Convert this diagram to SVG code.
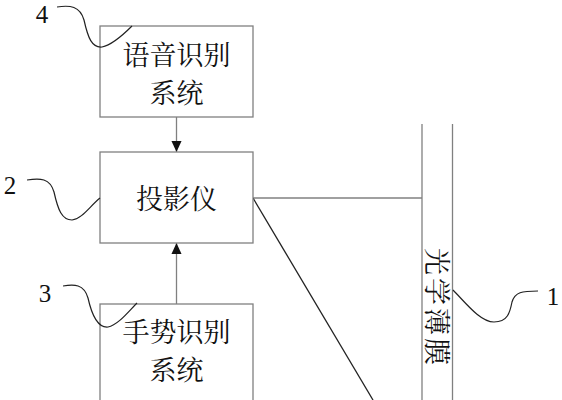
<svg xmlns="http://www.w3.org/2000/svg" width="562" height="400" viewBox="0 0 562 400">
<style>
.box{fill:#fff;stroke:#808080;stroke-width:1.3}
.cn{font-family:"Noto Serif CJK SC","Noto Sans CJK SC",serif;font-size:27px;fill:#111;text-anchor:middle;dominant-baseline:central}
.num{font-family:"Liberation Serif",serif;font-size:25px;fill:#111;text-anchor:middle;dominant-baseline:central}
.ln{fill:none;stroke:#808080;stroke-width:1.3}
.lead{fill:none;stroke:#222;stroke-width:1.2}
</style>
<defs>
<marker id="ah" viewBox="0 0 12 12" refX="12" refY="6" markerWidth="12" markerHeight="11" markerUnits="userSpaceOnUse" orient="auto">
<path d="M0,0.5 L12,6 L0,11.5 Z" fill="#111"/>
</marker>
</defs>
<g id="connectors">
<line class="ln" x1="176.5" y1="117" x2="176.5" y2="152" stroke="#333" marker-end="url(#ah)"/>
<line class="ln" x1="176.5" y1="304" x2="176.5" y2="243" stroke="#333" marker-end="url(#ah)"/>
<line class="ln" x1="253" y1="198" x2="422" y2="198"/>
<line x1="253" y1="198" x2="373" y2="400" stroke="#222" stroke-width="1.3"/>
</g>
<g id="node-voice">
<rect class="box" x="100" y="26" width="153" height="91"/>
<text class="cn" x="176.5" y="53">语音识别</text>
<text class="cn" x="176.5" y="91">系统</text>
</g>
<g id="node-projector">
<rect class="box" x="100" y="152" width="153" height="91"/>
<text class="cn" x="176.5" y="197">投影仪</text>
</g>
<g id="node-gesture">
<rect class="box" x="100" y="304" width="153" height="110"/>
<text class="cn" x="176.5" y="330">手势识别</text>
<text class="cn" x="176.5" y="368">系统</text>
</g>
<g id="node-film">
<line class="ln" x1="422" y1="124" x2="422" y2="400"/>
<line class="ln" x1="452.5" y1="124" x2="452.5" y2="400"/>
<text class="cn" transform="translate(438,308) rotate(90)" x="0" y="0" letter-spacing="3">光学薄膜</text>
</g>
<g id="labels">
<text class="num" x="42" y="14">4</text>
<path class="lead" d="M57,7 C70,5 80,6 84,20 C88,38 92,48 102,47 C112,45 122,36 132,26"/>
<text class="num" x="10" y="185">2</text>
<path class="lead" d="M27,180 C40,178 50,178 54,192 C58,210 62,220 72,220 C82,219 90,206 100,198"/>
<text class="num" x="45" y="293">3</text>
<path class="lead" d="M63,286 C74,284 84,284 88,298 C92,316 98,328 108,327 C118,325 128,312 137,303"/>
<text class="num" x="553" y="296">1</text>
<path class="lead" d="M453,290 C465,302 480,322 494,322 C508,322 510,312 512,302 C515,292 522,291 538,291"/>
</g>
</svg>
